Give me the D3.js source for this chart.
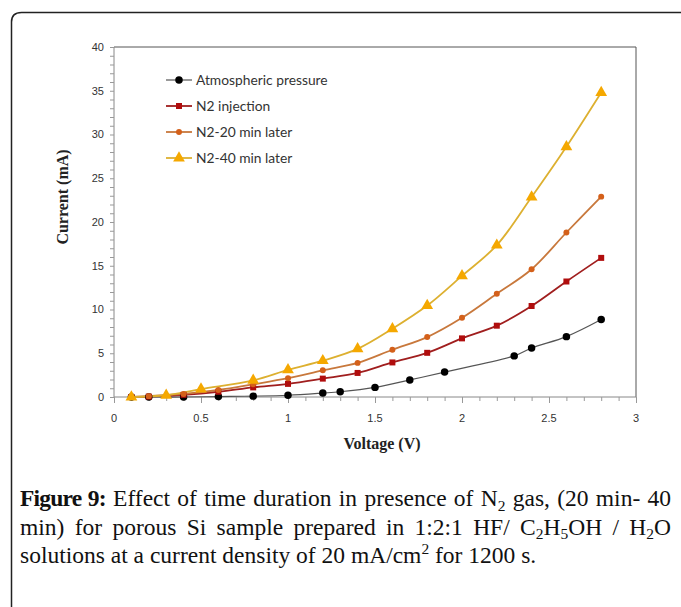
<!DOCTYPE html>
<html><head><meta charset="utf-8">
<script src="https://cdn.jsdelivr.net/npm/d3@7"></script>
<style>body{margin:0;background:#fff}svg{display:block}</style>
</head><body>
<svg id="chart" width="681" height="607"></svg>
<script>
// ---- data ----
const seriesNames = ["Atmospheric pressure", "N2 injection", "N2-20 min later", "N2-40 min later"];
const atmV = [0.1,0.2,0.4,0.6,0.8,1.0,1.2,1.3,1.5,1.7,1.9,2.3,2.4,2.6,2.8];
const atmI = [0,0,0,0.05,0.1,0.2,0.45,0.6,1.1,1.95,2.85,4.7,5.6,6.9,8.85];
const injV = [0.1,0.2,0.4,0.6,0.8,1.0,1.2,1.4,1.6,1.8,2.0,2.2,2.4,2.6,2.8];
const injI = [0,0.05,0.25,0.6,1.1,1.5,2.1,2.75,3.95,5.05,6.7,8.15,10.4,13.2,15.9];
const m20V = [0.1,0.2,0.4,0.6,0.8,1.0,1.2,1.4,1.6,1.8,2.0,2.2,2.4,2.6,2.8];
const m20I = [0,0.1,0.35,0.8,1.45,2.15,3.05,3.9,5.4,6.85,9.05,11.8,14.6,18.8,22.9];
const m40V = [0.1,0.3,0.5,0.8,1.0,1.2,1.4,1.6,1.8,2.0,2.2,2.4,2.6,2.8];
const m40I = [0,0.2,0.9,1.9,3.1,4.15,5.5,7.8,10.45,13.85,17.35,22.85,28.6,34.8];
const xTicks = [0,0.5,1,1.5,2,2.5,3];
const yTicks = [0,5,10,15,20,25,30,35,40];

const svg = d3.select("#chart");
// frame
svg.append("path")
  .attr("d","M11.5,700 L11.5,22 Q11.5,12.5 21.5,12.5 L700,12.5")
  .attr("fill","none").attr("stroke","#222").attr("stroke-width",1.5);

const x = d3.scaleLinear().domain([0,3]).range([114,636]);
const y = d3.scaleLinear().domain([0,40]).range([397,47]);

const g = svg.append("g");
// plot box top & right
g.append("path").attr("d",`M${x(0)},${y(40)}H${x(3)}V${y(0)}`)
  .attr("fill","none").attr("stroke","#555").attr("stroke-width",1);

// y axis with minor ticks
const yMinor = d3.range(0,41,1);
const yAx = g.append("g").attr("transform",`translate(${x(0)},0)`);
yAx.append("line").attr("y1",y(0)).attr("y2",y(40)).attr("stroke","#888");
yAx.selectAll(".mn").data(yMinor).join("line")
  .attr("x1",-4).attr("x2",0).attr("y1",d=>y(d)+0.5).attr("y2",d=>y(d)+0.5).attr("stroke","#999");
yAx.selectAll("text").data(yTicks).join("text")
  .attr("x",-10).attr("y",d=>y(d)).attr("dy","0.35em").attr("text-anchor","end")
  .attr("font-family","Liberation Sans, Arial, sans-serif").attr("font-size",11).attr("fill","#333")
  .text(d=>d);

// x axis
const xMinor = d3.range(0,31).map(d=>d/10);
const xAx = g.append("g").attr("transform",`translate(0,${y(0)})`);
xAx.append("line").attr("x1",x(0)).attr("x2",x(3)).attr("stroke","#888");
xAx.selectAll(".mn").data(xMinor).join("line")
  .attr("x1",d=>x(d)+0.5).attr("x2",d=>x(d)+0.5).attr("y1",0).attr("y2",(d,i)=>i%5===0?6:4).attr("stroke","#999");
xAx.selectAll("text").data(xTicks).join("text")
  .attr("x",d=>x(d)).attr("y",25).attr("text-anchor","middle")
  .attr("font-family","Liberation Sans, Arial, sans-serif").attr("font-size",11).attr("fill","#333")
  .text(d=>d);

// axis titles
svg.append("text").attr("transform",`translate(68,197) rotate(-90)`).attr("text-anchor","middle")
  .attr("font-family","Liberation Serif, Times New Roman, serif").attr("font-weight","bold").attr("font-size",16)
  .attr("fill","#222").text("Current (mA)");
svg.append("text").attr("x",382).attr("y",449).attr("text-anchor","middle")
  .attr("font-family","Liberation Serif, Times New Roman, serif").attr("font-weight","bold").attr("font-size",16)
  .attr("fill","#222").text("Voltage (V)");

// series
const series = [
  {name:seriesNames[0], v:atmV, c:atmI, line:"#555555", fill:"#000000", shape:"circle", size:44},
  {name:seriesNames[1], v:injV, c:injI, line:"#A01E1E", fill:"#B00D0D", shape:"square", size:36},
  {name:seriesNames[2], v:m20V, c:m20I, line:"#C8783C", fill:"#D4601A", shape:"circle", size:28},
  {name:seriesNames[3], v:m40V, c:m40I, line:"#DDB030", fill:"#F5A800", shape:"triangle", size:60}
];
const symType = {circle:d3.symbolCircle, square:d3.symbolSquare, triangle:d3.symbolTriangle};
const lineGen = d3.line().x(d=>x(d[0])).y(d=>y(d[1])).curve(d3.curveCatmullRom.alpha(0.5));

series.forEach(s=>{
  const pts = s.v.map((v,i)=>[v,s.c[i]]);
  g.append("path").attr("d",lineGen(pts)).attr("fill","none")
    .attr("stroke",s.line).attr("stroke-width",s.fill==="#000000"?1.2:1.8);
});
series.forEach(s=>{
  const pts = s.v.map((v,i)=>[v,s.c[i]]);
  g.selectAll(null).data(pts).join("path")
    .attr("transform",d=>`translate(${x(d[0])},${y(d[1])})`)
    .attr("d",d3.symbol().type(symType[s.shape]).size(s.size)).attr("fill",s.fill);
});

// legend
const leg = svg.append("g");
series.forEach((s,i)=>{
  const ly = 80 + i*26;
  leg.append("line").attr("x1",166).attr("x2",192).attr("y1",ly).attr("y2",ly)
    .attr("stroke",s.line).attr("stroke-width",s.fill==="#000000"?1.2:1.8);
  leg.append("path").attr("transform",`translate(179,${ly})`)
    .attr("d",d3.symbol().type(symType[s.shape]).size(s.size)).attr("fill",s.fill);
  leg.append("text").attr("x",196).attr("y",ly).attr("dy","0.35em")
    .attr("font-family","Lato, Carlito, Calibri, sans-serif").attr("font-size",13.8).attr("fill","#333")
    .text(s.name);
});

// caption
const capFont = "Liberation Serif, Times New Roman, serif";
const FS = 23.5;
function capLine(yy, parts, justifyTo){
  const t = svg.append("text").attr("x",20).attr("y",yy)
    .attr("font-family",capFont).attr("font-size",FS).attr("fill","#111");
  parts.forEach(p=>{
    const ts = t.append("tspan").text(p.t);
    if(p.b) ts.attr("font-weight","bold").attr("letter-spacing",-0.8);
    if(p.sub) ts.attr("font-size",FS*0.66).attr("dy",4.5);
    if(p.sup) ts.attr("font-size",FS*0.66).attr("dy",-9);
    if(p.back) ts.attr("dy",p.back);
  });
  if(justifyTo){
    const w = t.node().getComputedTextLength();
    const full = parts.map(p=>p.t).join("");
    const n = (full.match(/ /g)||[]).length;
    if(n>0) t.attr("word-spacing",((justifyTo-20)-w)/n);
  }
}
capLine(506,[
  {t:"Figure 9:",b:true},{t:" Effect of time duration in presence of N"},{t:"2",sub:true},
  {t:" gas, (20 min- 40",back:-4.5}],671);
capLine(534.5,[
  {t:"min) for porous Si sample prepared in 1:2:1 HF/ C"},{t:"2",sub:true},{t:"H",back:-4.5},
  {t:"5",sub:true},{t:"OH / H",back:-4.5},{t:"2",sub:true},{t:"O",back:-4.5}],671);
capLine(563,[
  {t:"solutions at a current density of 20 mA/cm"},{t:"2",sup:true},{t:" for 1200 s.",back:9}],null);
</script>
</body></html>
